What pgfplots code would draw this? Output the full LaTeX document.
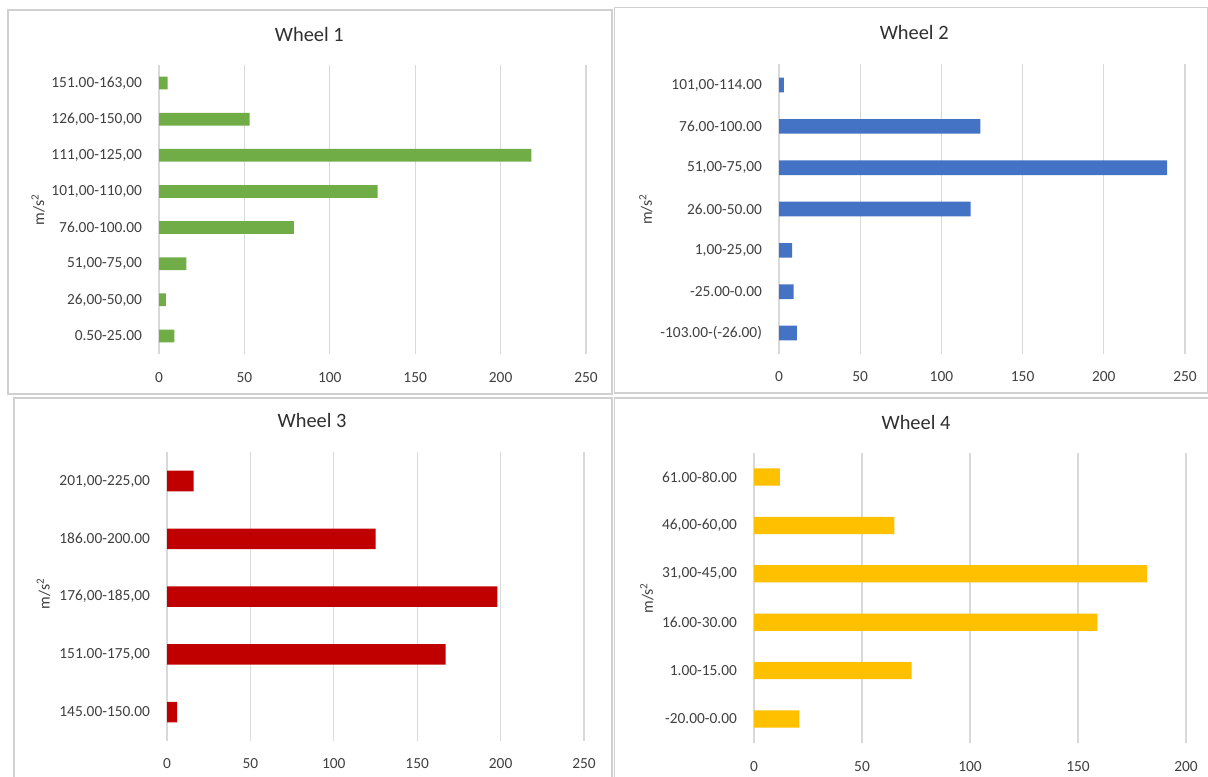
\documentclass[border=0pt]{standalone}
\usepackage{fontspec}
\setmainfont{Carlito}
\usepackage{pgfplots}
\pgfplotsset{compat=1.18}

\definecolor{wgreen}{HTML}{70AD47}
\definecolor{wblue}{HTML}{4472C4}
\definecolor{wred}{HTML}{C00000}
\definecolor{wyellow}{HTML}{FFC000}
\definecolor{gridgray}{HTML}{D9D9D9}
\definecolor{framegray}{HTML}{D0D0D0}
\definecolor{labelgray}{HTML}{404040}
\definecolor{titlegray}{HTML}{303030}

\pgfplotsset{
  wheel/.style={
    xbar,
    scale only axis,
    anchor=south west,
    axis line style={draw=none},
    major tick length=0pt,
    xmajorgrids,
    ymajorgrids=false,
    grid style={draw=gridgray, line width=0.55pt},
    xmin=0,
    enlarge y limits=false,
    bar width=0.355,
    clip=false,
    /pgf/number format/assume math mode=true,
    tick label style={font=\fontsize{7.7}{9}\selectfont, text=labelgray},
    xticklabel style={yshift=-5.5pt},
    yticklabel style={xshift=-5pt},
    ylabel={m/s\textsuperscript{2}},
    ylabel style={font=\fontsize{7.9}{9}\selectfont, text=labelgray, anchor=center},
    every axis title/.style={font=\fontsize{10.2}{12}\selectfont, text=titlegray, anchor=center},
  }
}

\begin{document}
\begin{tikzpicture}
\useasboundingbox (0,0) rectangle (604pt,-388pt);
\fill[white] (0,0) rectangle (604pt,-388pt);
% chart frames
\draw[framegray, line width=0.6pt] (4pt,-5pt) rectangle (306pt,-197pt);
\draw[framegray, line width=0.6pt] (307.3pt,-3.7pt) rectangle (603.6pt,-196.5pt);
\draw[framegray, line width=0.6pt] (7pt,-199pt) rectangle (306pt,-392pt);
\draw[framegray, line width=0.6pt] (307.3pt,-199pt) rectangle (606pt,-392pt);

% Wheel 1
\begin{axis}[wheel,
  at={(79.5pt,-177pt)}, width=213.5pt, height=144.5pt,
  xmax=250, xtick={0,50,...,250},
  ymin=-0.5, ymax=7.5, ytick={0,...,7},
  yticklabels={{0.50-25.00},{26,00-50,00},{51,00-75,00},{76.00-100.00},{101,00-110,00},{111,00-125,00},{126,00-150,00},{151.00-163,00}},
  title={Wheel 1},
  title style={at={(axis description cs:0.352,1.104)}},
  ylabel style={at={(axis description cs:-0.283,0.5)}},
]
\addplot[fill=wgreen, draw=none] coordinates {
  (9,0) (4,1) (16,2) (79,3) (128,4) (218,5) (53,6) (5,7)
};
\end{axis}

% Wheel 2
\begin{axis}[wheel,
  at={(389.5pt,-176.85pt)}, width=203pt, height=144.65pt,
  xmax=250, xtick={0,50,...,250},
  ymin=-0.5, ymax=6.5, ytick={0,...,6},
  yticklabels={{-103.00-(-26.00)},{-25.00-0.00},{1,00-25,00},{26.00-50.00},{51,00-75,00},{76.00-100.00},{101,00-114.00}},
  title={Wheel 2},
  title style={at={(axis description cs:0.333,1.109)}},
  ylabel style={at={(axis description cs:-0.328,0.5)}},
]
\addplot[fill=wblue, draw=none] coordinates {
  (11,0) (9,1) (8,2) (118,3) (239,4) (124,5) (3,6)
};
\end{axis}

% Wheel 3
\begin{axis}[wheel,
  at={(83.5pt,-370.45pt)}, width=208.5pt, height=144.4pt,
  xmax=250, xtick={0,50,...,250},
  ymin=-0.5, ymax=4.5, ytick={0,...,4},
  yticklabels={{145.00-150.00},{151.00-175,00},{176,00-185,00},{186.00-200.00},{201,00-225,00}},
  title={Wheel 3},
  title style={at={(axis description cs:0.348,1.111)}},
  ylabel style={at={(axis description cs:-0.296,0.51)}},
]
\addplot[fill=wred, draw=none] coordinates {
  (6,0) (167,1) (198,2) (125,3) (16,4)
};
\end{axis}

% Wheel 4
\begin{axis}[wheel,
  at={(377pt,-371.6pt)}, width=216pt, height=145.2pt,
  xmax=200, xtick={0,50,...,200},
  ymin=-0.5, ymax=5.5, ytick={0,...,5},
  yticklabels={{-20.00-0.00},{1.00-15.00},{16.00-30.00},{31,00-45,00},{46,00-60,00},{61.00-80.00}},
  title={Wheel 4},
  title style={at={(axis description cs:0.375,1.103)}},
  ylabel style={at={(axis description cs:-0.248,0.5)}},
]
\addplot[fill=wyellow, draw=none] coordinates {
  (21,0) (73,1) (159,2) (182,3) (65,4) (12,5)
};
\end{axis}
\end{tikzpicture}
\end{document}
